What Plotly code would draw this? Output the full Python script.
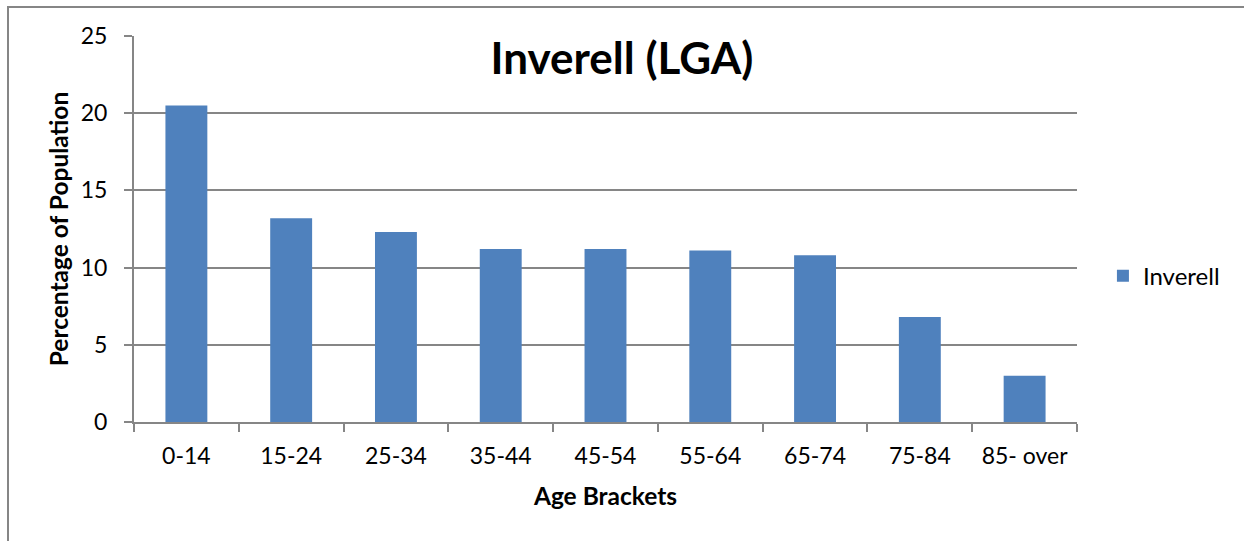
import plotly.graph_objects as go

age_brackets = ["0-14", "15-24", "25-34", "35-44", "45-54", "55-64", "65-74", "75-84", "85- over"]
inverell_pct = [20.5, 13.2, 12.3, 11.2, 11.2, 11.1, 10.8, 6.8, 3.0]

BAR_COLOUR = "#4F81BD"
AXIS_COLOUR = "#868686"
FONT = "Lato, 'Open Sans', sans-serif"

FIG_W, FIG_H = 1244, 541
M_L, M_T = 134, 36
PLOT_W, PLOT_H = 943, 386
M_R = FIG_W - M_L - PLOT_W
M_B = FIG_H - M_T - PLOT_H

fig = go.Figure()

fig.add_trace(
    go.Bar(
        x=age_brackets,
        y=inverell_pct,
        name="Inverell",
        marker=dict(color=BAR_COLOUR, line=dict(width=0)),
        showlegend=True,
    )
)

fig.update_layout(
    width=FIG_W,
    height=FIG_H,
    paper_bgcolor="white",
    plot_bgcolor="white",
    margin=dict(l=M_L, r=M_R, t=M_T, b=M_B),
    bargap=0.6,
    font=dict(family=FONT, size=23, color="black"),
    title=dict(
        text="<b>Inverell (LGA)</b>",
        x=0.5,
        xanchor="center",
        y=1 - 59 / FIG_H,
        yanchor="middle",
        font=dict(size=44, family=FONT, color="black"),
    ),
    legend=dict(
        x=1.0275,
        y=0.378,
        xanchor="left",
        yanchor="middle",
        font=dict(size=24),
        itemwidth=30,
    ),
    xaxis=dict(
        title=dict(text="<b>Age Brackets</b>", font=dict(size=24.5), standoff=20),
        showline=True,
        linecolor=AXIS_COLOUR,
        linewidth=2,
        ticks="outside",
        tickson="boundaries",
        ticklen=8,
        tickcolor=AXIS_COLOUR,
        tickwidth=2,
        ticklabelstandoff=12,
        showgrid=False,
        tickfont=dict(size=23),
    ),
    yaxis=dict(
        title=dict(text="<b>Percentage of Population</b>", font=dict(size=24.5), standoff=5),
        range=[0, 25],
        dtick=5,
        showline=True,
        linecolor=AXIS_COLOUR,
        linewidth=2,
        ticks="outside",
        ticklen=8,
        tickcolor=AXIS_COLOUR,
        tickwidth=2,
        ticklabelstandoff=12,
        showgrid=True,
        gridcolor=AXIS_COLOUR,
        gridwidth=2,
        zeroline=False,
        tickfont=dict(size=23),
    ),
    shapes=[
        # Outer chart border; only its top and left edges fall inside the picture.
        dict(
            type="rect",
            xref="paper",
            yref="paper",
            x0=(8 - M_L) / PLOT_W,
            x1=(FIG_W + 30 - M_L) / PLOT_W,
            y0=-(M_B + 30) / PLOT_H,
            y1=(PLOT_H + M_T - 7) / PLOT_H,
            line=dict(color=AXIS_COLOUR, width=2),
            fillcolor="rgba(0,0,0,0)",
            layer="below",
        )
    ],
)

fig.write_html(
    "out.html",
    config={"displayModeBar": False},
    post_script="document.body.style.margin='0';document.body.style.overflow='hidden';",
)
